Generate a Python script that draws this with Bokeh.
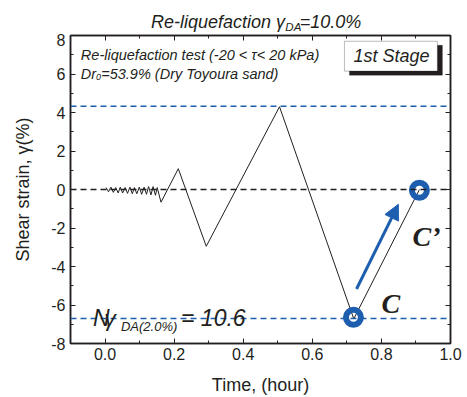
from bokeh.plotting import figure
from bokeh.layouts import column
from bokeh.models import (Range1d, LinearAxis, FixedTicker, PrintfTickFormatter, Span,
                          Label, Arrow, NormalHead, BoxAnnotation, ColumnDataSource)
from bokeh.embed import file_html
from bokeh.resources import INLINE

# ---------------- data ----------------
time_h = [0.003, 0.010, 0.017, 0.024, 0.031, 0.038, 0.044, 0.051, 0.058, 0.065,
          0.072, 0.079, 0.085, 0.092, 0.099, 0.106, 0.113, 0.120, 0.126, 0.133,
          0.139, 0.146, 0.151, 0.162, 0.212, 0.293, 0.505, 0.720, 0.910]
strain = [0.10, -0.12, 0.12, -0.15, 0.10, -0.18, 0.12, -0.18, 0.10, -0.20,
          0.12, -0.22, 0.10, -0.22, 0.12, -0.25, 0.12, -0.25, 0.15, -0.28,
          0.15, -0.30, 0.10, -0.66, 1.08, -2.95, 4.30, -6.72, 0.00]

marked_time = [0.719, 0.910]
marked_strain = [-6.64, -0.04]

blue_levels = [4.33, -6.70]
zero_level = [0.0]

arrow_from = (0.728, -5.17)
arrow_to = (0.849, -0.77)

x_ticks = [0.0, 0.2, 0.4, 0.6, 0.8, 1.0]
x_minor = [-0.1, 0.1, 0.3, 0.5, 0.7, 0.9]
y_ticks = [-8, -6, -4, -2, 0, 2, 4, 6, 8]
y_minor = [-7, -5, -3, -1, 1, 3, 5, 7]

TXT = "#231f20"
BLUE = "#1d5fae"
FONT = "Liberation Sans"

# ---------------- title strip (frame aligned with the main plot's frame) ----------------
TH = 33
tf = figure(width=467, height=TH, output_backend="svg", toolbar_location=None, title=None,
            x_range=Range1d(-0.1, 1.0), y_range=Range1d(0, TH),
            min_border_left=70, min_border_right=17, min_border_top=0, min_border_bottom=0,
            x_axis_type=None, y_axis_type=None)
tf.grid.visible = False
tf.outline_line_color = None
tf.background_fill_color = "white"
tf.border_fill_color = "white"


def tlab(x, y, text, size, align="left"):
    tf.add_layout(Label(x=x, y=y, text=text, text_font_size=size, text_font_style="italic",
                        text_font=FONT, text_align=align, text_baseline="alphabetic",
                        text_color=TXT))


tlab(0.133, TH - 21, "Re-liquefaction γ", "18px")
tlab(0.522, TH - 26, "DA", "11.5px")
tlab(0.742, TH - 21, "=10.0%", "18px", align="right")

# ---------------- main plot ----------------
p = figure(width=467, height=397 - TH, output_backend="svg", toolbar_location=None,
           x_range=Range1d(-0.1, 1.0), y_range=Range1d(-8, 8),
           min_border_left=70, min_border_right=17, min_border_top=2, min_border_bottom=54,
           x_axis_type=None, y_axis_type=None)
p.grid.visible = False
p.outline_line_color = TXT
p.outline_line_width = 1.5
p.background_fill_color = "white"
p.border_fill_color = "white"

xt = FixedTicker(ticks=x_ticks, minor_ticks=x_minor)
yt = FixedTicker(ticks=y_ticks, minor_ticks=y_minor)


def style_axis(ax, show_labels):
    ax.major_tick_in = 5
    ax.major_tick_out = 0
    ax.minor_tick_in = 3
    ax.minor_tick_out = 0
    ax.axis_line_color = TXT
    ax.axis_line_width = 1.5
    ax.major_tick_line_color = TXT
    ax.minor_tick_line_color = TXT
    ax.major_label_text_color = TXT
    ax.major_label_text_font = FONT
    ax.axis_label_text_font = FONT
    ax.axis_label_text_color = TXT
    ax.axis_label_text_font_style = "normal"
    if show_labels:
        ax.major_label_text_font_size = "16px"
        ax.axis_label_text_font_size = "18px"
    else:
        ax.major_label_text_font_size = "0px"
        ax.major_label_standoff = 0


xb = LinearAxis(ticker=xt, formatter=PrintfTickFormatter(format="%.1f"), axis_label="Time, (hour)")
style_axis(xb, True)
xb.major_label_standoff = 4
xb.axis_label_standoff = 12
p.add_layout(xb, "below")

yl = LinearAxis(ticker=yt, formatter=PrintfTickFormatter(format="%d"), axis_label="Shear strain, γ(%)")
style_axis(yl, True)
yl.major_label_standoff = 5
yl.axis_label_standoff = 15
p.add_layout(yl, "left")

xa = LinearAxis(ticker=xt)
style_axis(xa, False)
p.add_layout(xa, "above")
yr = LinearAxis(ticker=yt)
style_axis(yr, False)
p.add_layout(yr, "right")

# reference lines
for lv in blue_levels:
    p.add_layout(Span(location=lv, dimension="width", line_color=BLUE, line_width=1.5, line_dash="6 4"))
for lv in zero_level:
    p.add_layout(Span(location=lv, dimension="width", line_color=TXT, line_width=1.3, line_dash="6 4"))

src = ColumnDataSource(data=dict(t=time_h, g=strain))
p.line("t", "g", source=src, line_color=TXT, line_width=1)

p.scatter(marked_time, marked_strain, size=15, line_width=6, line_color=BLUE, fill_color=None)

p.add_layout(Arrow(end=NormalHead(size=15, fill_color=BLUE, line_color=BLUE),
                   x_start=arrow_from[0], y_start=arrow_from[1],
                   x_end=arrow_to[0], y_end=arrow_to[1],
                   line_color=BLUE, line_width=3))


def lab(x, y, text, size, style="italic", font=FONT, align="left", baseline="alphabetic", color=TXT):
    p.add_layout(Label(x=x, y=y, text=text, text_font_size=size, text_font_style=style,
                       text_font=font, text_align=align, text_baseline=baseline, text_color=color))


# annotation text
lab(-0.07, 6.97, "Re-liquefaction test (-20 < τ< 20 kPa)", "14.5px")
lab(-0.07, 6.00, "Dr", "14.5px")
lab(-0.026, 5.83, "0", "9px")
lab(-0.011, 6.00, "=53.9% (Dry Toyoura sand)", "14.5px")

# stage box
p.add_layout(BoxAnnotation(left=0.7075, right=0.9765, top=7.49, bottom=5.94,
                           fill_color=TXT, fill_alpha=1, line_color=TXT))
p.add_layout(BoxAnnotation(left=0.693, right=0.962, top=7.70, bottom=6.15,
                           fill_color="white", fill_alpha=1, line_color=TXT, line_width=1))
lab(0.829, 6.92, "1st Stage", "18px", align="center", baseline="middle")

# N label
lab(-0.035, -6.69, "N", "23px")
lab(-0.002, -6.69, "γ", "23px")
lab(0.046, -7.10, "DA(2.0%)", "13px")
lab(0.220, -6.69, "= 10.6", "23px")

# C labels
lab(0.89, -2.44, "C’", "28px", style="bold italic", font="Liberation Serif")
lab(0.800, -5.90, "C", "28px", style="bold italic", font="Liberation Serif")

open("out.html", "w").write(file_html(column(tf, p), INLINE))
